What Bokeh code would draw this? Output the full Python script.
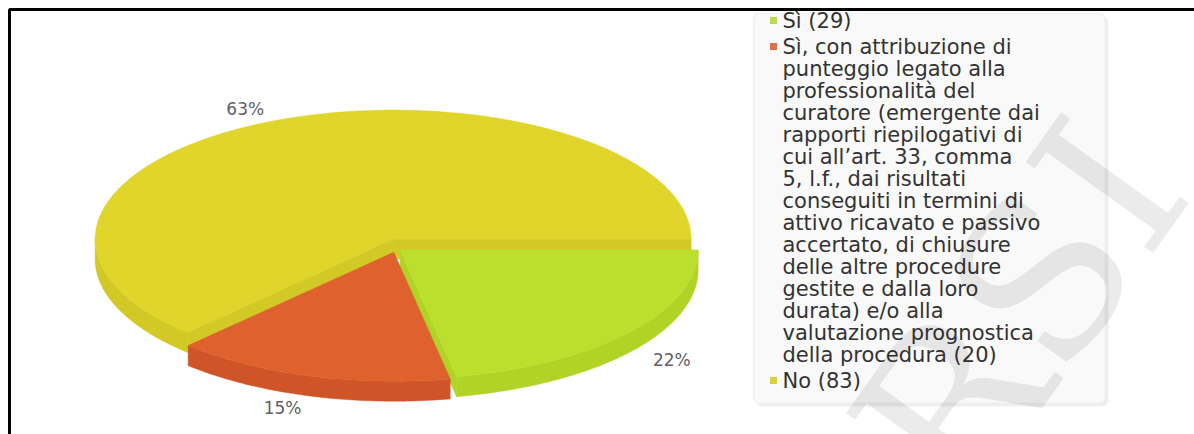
import numpy as np
from bokeh.plotting import figure
from bokeh.models import Range1d, BoxAnnotation
from bokeh.embed import file_html
from bokeh.resources import INLINE
from bokeh.core.properties import value

# ---------------- data ----------------
categories = [
    "Sì",
    "Sì, con attribuzione di\npunteggio legato alla\nprofessionalità del\ncuratore (emergente dai\n"
    "rapporti riepilogativi di\ncui all’art. 33, comma\n5, l.f., dai risultati\nconseguiti in termini di\n"
    "attivo ricavato e passivo\naccertato, di chiusure\ndelle altre procedure\ngestite e dalla loro\n"
    "durata)  e/o alla\nvalutazione prognostica\ndella procedura",
    "No",
]
counts = [29, 20, 83]
top_colors = ["#bcdf2d", "#df622e", "#dfd52b"]
side_colors = ["#b0d326", "#cf5528", "#d3c926"]
legend_colors = ["#b9d94f", "#e0704a", "#d6d23a"]

# ---------------- geometry (screen pixels, y down) ----------------
W, H = 1194, 434
cx, cy = 395, 245
rx, ry = 298, 129
depth = 20
ex, ey = 6, 7

p = figure(width=W, height=H, x_range=Range1d(0, W), y_range=Range1d(H, 0),
           output_backend="svg", toolbar_location=None, min_border=0,
           outline_line_color=None, background_fill_color="white")
p.axis.visible = False
p.grid.visible = False

total = sum(counts)
fracs = [c / total for c in counts]

slices = []
cum = 0.0
for i, f in enumerate(fracs):
    lo = -(cum + f) * 2 * np.pi
    hi = -cum * 2 * np.pi
    lo_n = lo % (2 * np.pi)
    hi_n = lo_n + (hi - lo)
    m = (lo_n + hi_n) / 2
    ox, oy = ex * np.cos(m), -ey * np.sin(m)
    slices.append(dict(i=i, lo=lo_n, hi=hi_n, m=m, ox=ox, oy=oy))
    cum += f


def pt(s, t, k=1.0):
    return (cx + s["ox"] + k * rx * np.cos(t), cy + s["oy"] - k * ry * np.sin(t))


order = sorted(slices, key=lambda s: -np.sin(s["m"]) * ry + s["oy"])

# watermark
p.text(x=[1020], y=[310], text=["RSI"], angle=0.95, text_font=value("DejaVu Serif"),
       text_font_size="215px", text_color="#000000", text_alpha=0.08,
       text_align="center", text_baseline="middle", level="overlay")

# side walls
for s in order:
    col = side_colors[s["i"]]
    c0 = (cx + s["ox"], cy + s["oy"])
    for t, vis in ((s["lo"], np.cos(s["lo"]) > 1e-9), (s["hi"], np.cos(s["hi"]) < -1e-9)):
        if vis:
            e = pt(s, t)
            xs = [c0[0], e[0], e[0], c0[0]]
            ys = [c0[1], e[1], e[1] + depth, c0[1] + depth]
            p.patch(xs, ys, fill_color=col, line_color=col, line_width=0.5)
    for a, b in ((np.pi, 2 * np.pi), (3 * np.pi, 4 * np.pi)):
        lo_, hi_ = max(a, s["lo"]), min(b, s["hi"])
        if hi_ > lo_:
            ts = np.linspace(lo_, hi_, 80)
            top = [pt(s, t) for t in ts]
            xs = [q[0] for q in top] + [q[0] for q in top[::-1]]
            ys = [q[1] for q in top] + [q[1] + depth for q in top[::-1]]
            p.patch(xs, ys, fill_color=col, line_color=col, line_width=0.5)

# top faces
for s in order:
    col = top_colors[s["i"]]
    ts = np.linspace(s["lo"], s["hi"], 200)
    arc = [pt(s, t) for t in ts]
    xs = [cx + s["ox"]] + [q[0] for q in arc]
    ys = [cy + s["oy"]] + [q[1] for q in arc]
    p.patch(xs, ys, fill_color=col, line_color=col, line_width=0.5)

# percentage labels
for s in slices:
    t = s["m"]
    lx, ly = pt(s, t, 1.1)
    if np.sin(t) < 0:
        ly += depth
    pct = f"{round(fracs[s['i']] * 100)}%"
    p.text(x=[lx], y=[ly], text=[pct], text_font=value("DejaVu Sans"),
           text_font_size="17px", text_color="#5f6066",
           text_align="right" if np.cos(t) < 0 else "left", text_baseline="middle")

# frame
p.line(x=[W, 9, 9], y=[9, 9, H], line_color="black", line_width=3)

# legend box
p.add_layout(BoxAnnotation(left=756, right=1108, top=16, bottom=406,
                           fill_color="#e6e6e6", fill_alpha=0.6, line_color=None,
                           border_radius=6, level="underlay"))
p.add_layout(BoxAnnotation(left=753, right=1105, top=13, bottom=403,
                           fill_color="#f9f9f9", fill_alpha=1.0, line_color="#dcdcdc",
                           line_width=1.5, border_radius=6, level="underlay"))

# legend entries
L, gap = 22, 4
y = 20
for i, cat in enumerate(categories):
    lines = f"{cat} ({counts[i]})".split("\n")
    p.scatter(x=[773], y=[y], marker="square", size=7,
              fill_color=legend_colors[i], line_color=None)
    ys = [y + k * L for k in range(len(lines))]
    p.text(x=[782] * len(lines), y=ys, text=lines, text_font=value("DejaVu Sans"),
           text_font_size="21px", text_color="#333333",
           text_align="left", text_baseline="middle")
    y = ys[-1] + L + gap

open("out.html", "w").write(file_html(p, INLINE))
